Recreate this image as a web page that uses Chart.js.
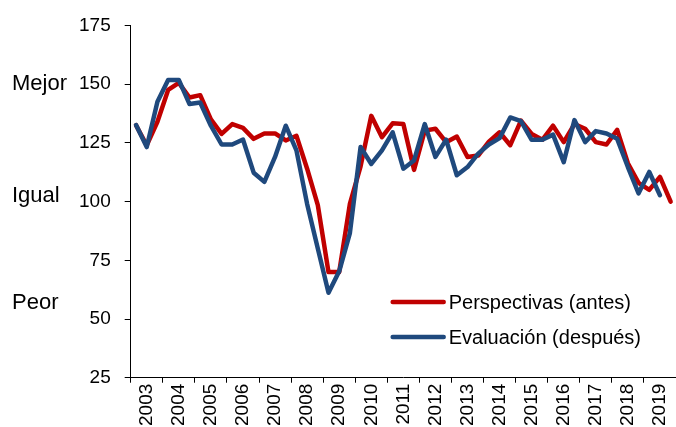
<!DOCTYPE html>
<html lang="es">
<head>
    <meta charset="UTF-8">
    <title>Perspectivas y evaluación</title>
    <script src="https://cdn.jsdelivr.net/npm/chart.js"></script>
    <style>
        body { margin: 0; background: #fff; }
        #wrap { width: 676px; height: 427px; }
    </style>
</head>
<body>
    <div id="wrap"><canvas id="chart"></canvas></div>

    <script>
        // datos cuatrimestrales, 3 por año
        const years = ['2003', '2004', '2005', '2006', '2007', '2008', '2009', '2010', '2011',
                       '2012', '2013', '2014', '2015', '2016', '2017', '2018', '2019'];
        const categories = years.flatMap(y => [y + '-1', y + '-2', y + '-3']);

        const perspectivas = [132.5, 124, 134, 147.5, 150.5, 144.3, 145.3, 135, 128.8, 133,
                              131.4, 126.7, 129, 129, 126, 128, 114, 98.5, 70, 70,
                              99, 115, 136.5, 127.4, 133.3, 133, 113.5, 130.2, 131, 125.3,
                              127.7, 119, 119.6, 125.5, 129.5, 124, 134.5, 128.8, 126.3, 132.3,
                              125.3, 133, 131, 125.3, 124.3, 130.5, 116.3, 108, 105, 110.5,
                              100];
        const evaluacion = [132.6, 123.2, 142.5, 151.8, 151.8, 141.5, 142.2, 132.3, 124.3, 124.3,
                            126.4, 112.3, 108.4, 119, 132.3, 121.8, 99, 80, 61.2, 70.3,
                            86.6, 123.2, 116, 121.8, 129.5, 114, 117.5, 133, 119, 126.4,
                            111.2, 114.7, 120.4, 124.3, 127, 135.8, 134.2, 126.3, 126.3, 128.5,
                            116.8, 134.7, 125.3, 130, 129, 126.7, 114.7, 103.5, 112.6, 102.7];

        const seriesNames = ['Perspectivas (antes)', 'Evaluación (después)'];
        const yTicks = [25, 50, 75, 100, 125, 150, 175];
        const sideLabels = ['Mejor', 'Igual', 'Peor'];

        const FONT = '"Liberation Sans", Arial, sans-serif';

        // textos Mejor / Igual / Peor y leyenda dentro del gráfico
        const extras = {
            id: 'extras',
            afterDraw(chart) {
                const ctx = chart.ctx;
                const y = chart.scales.y;
                const area = chart.chartArea;
                ctx.save();
                ctx.fillStyle = '#000';
                ctx.textBaseline = 'middle';
                ctx.textAlign = 'left';
                ctx.font = '22px ' + FONT;
                const at = [150, 102.5, 57];
                sideLabels.forEach((t, i) => ctx.fillText(t, 12, y.getPixelForValue(at[i])));

                ctx.font = '20px ' + FONT;
                const lx = area.left + 262;
                chart.data.datasets.forEach((ds, i) => {
                    const ly = 302 + i * 35;
                    ctx.strokeStyle = ds.borderColor;
                    ctx.lineWidth = 4.5;
                    ctx.lineCap = 'round';
                    ctx.beginPath();
                    ctx.moveTo(lx, ly);
                    ctx.lineTo(lx + 51, ly);
                    ctx.stroke();
                    ctx.fillText(ds.label, lx + 56, ly + 1);
                });
                ctx.restore();
            }
        };

        new Chart(document.getElementById('chart'), {
            type: 'line',
            data: {
                labels: categories,
                datasets: [{
                    label: seriesNames[0],
                    data: perspectivas,
                    borderColor: '#C00000',
                    borderWidth: 4.5,
                    pointRadius: 0,
                    tension: 0,
                    borderJoinStyle: 'round',
                    borderCapStyle: 'round',
                    order: 2
                }, {
                    label: seriesNames[1],
                    data: evaluacion,
                    borderColor: '#1F497D',
                    borderWidth: 4.5,
                    pointRadius: 0,
                    tension: 0,
                    borderJoinStyle: 'round',
                    borderCapStyle: 'round',
                    order: 1
                }]
            },
            options: {
                responsive: true,
                maintainAspectRatio: false,
                animation: false,
                layout: { padding: { left: 65, top: 13, right: 0, bottom: 0 } },
                plugins: {
                    legend: { display: false },
                    tooltip: { enabled: false }
                },
                scales: {
                    x: {
                        offset: true,
                        // sin margen extra por las etiquetas giradas
                        afterFit: s => { s.paddingLeft = 0; s.paddingRight = 0; },
                        grid: {
                            offset: true,
                            drawOnChartArea: false,
                            tickLength: 5,
                            tickColor: c => (c.index === undefined || c.index % 3 === 0) ? '#000' : 'rgba(0,0,0,0)'
                        },
                        border: { color: '#000', width: 1 },
                        ticks: {
                            autoSkip: false,
                            minRotation: 90,
                            maxRotation: 90,
                            padding: 1,
                            color: '#000',
                            font: { family: FONT, size: 19 },
                            callback: (v, i) => i % 3 === 1 ? years[Math.floor(i / 3)] : ''
                        }
                    },
                    y: {
                        min: 25,
                        max: 175,
                        afterBuildTicks: s => { s.ticks = yTicks.map(v => ({ value: v })); },
                        grid: { drawOnChartArea: false, tickLength: 6, tickColor: '#000' },
                        border: { color: '#000', width: 1 },
                        ticks: {
                            padding: 14,
                            color: '#000',
                            font: { family: FONT, size: 19 }
                        }
                    }
                }
            },
            plugins: [extras]
        });
    </script>
</body>
</html>
